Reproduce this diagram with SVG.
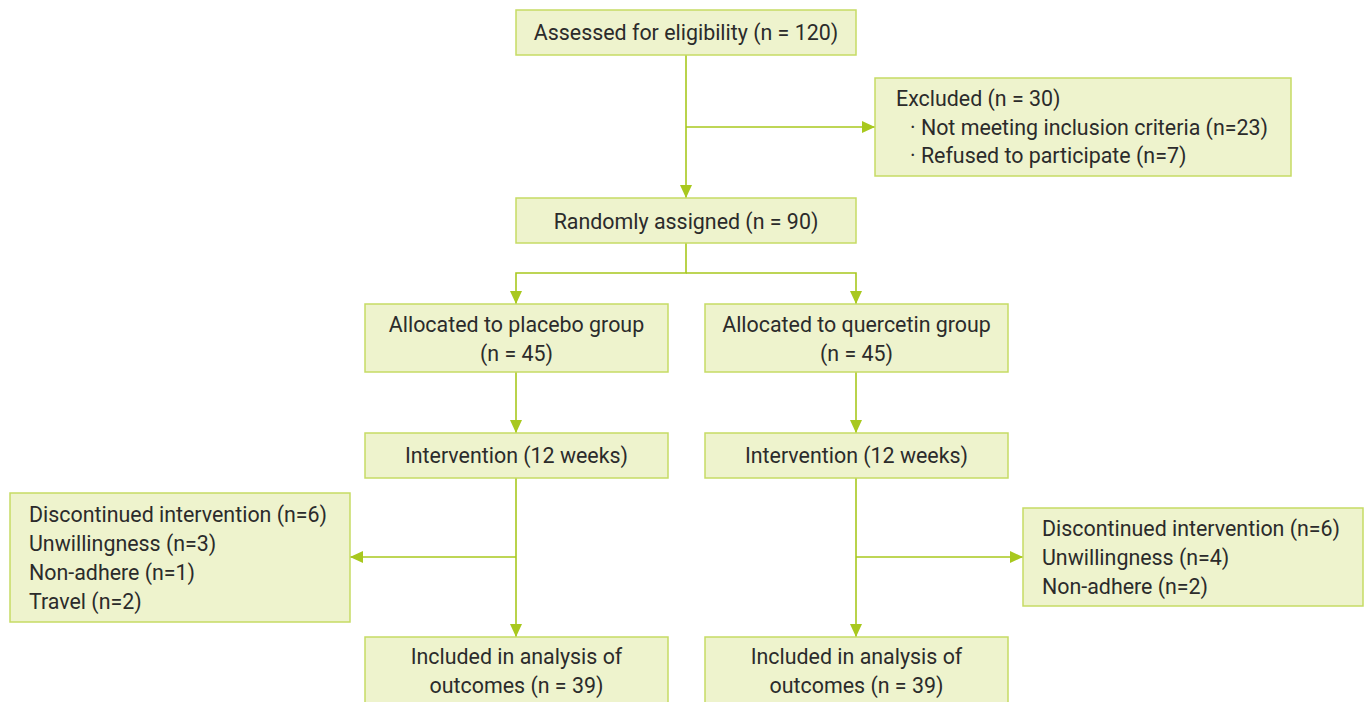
<svg xmlns="http://www.w3.org/2000/svg" width="1368" height="702" viewBox="0 0 1368 702">
<defs>
<style>
.box{fill:#EEF3CD;stroke:#C6DB64;stroke-width:1.5}
.t{font-family:Roboto,"Noto Sans","Liberation Sans",sans-serif;font-size:21.4px;fill:#2B2B2B}
.c{text-anchor:middle}
.ln{fill:none;stroke:#A8C81E;stroke-width:1.6}
</style>
<marker id="ah" markerUnits="userSpaceOnUse" markerWidth="14" markerHeight="14" viewBox="0 0 14 14" refX="13" refY="7" orient="auto">
<path d="M0,1 L13,7 L0,13 Z" fill="#A8C81E"/>
</marker>
</defs>
<rect width="1368" height="702" fill="#FFFFFF"/>
<g id="connectors">
<path class="ln" d="M686,55 V198" marker-end="url(#ah)"/>
<path class="ln" d="M686,127 H875" marker-end="url(#ah)"/>
<path class="ln" d="M686,243 V273 H516 V304" marker-end="url(#ah)"/>
<path class="ln" d="M686,273 H856 V304" marker-end="url(#ah)"/>
<path class="ln" d="M516,372 V433" marker-end="url(#ah)"/>
<path class="ln" d="M856,372 V433" marker-end="url(#ah)"/>
<path class="ln" d="M516,478 V637" marker-end="url(#ah)"/>
<path class="ln" d="M516,557 H350" marker-end="url(#ah)"/>
<path class="ln" d="M856,478 V637" marker-end="url(#ah)"/>
<path class="ln" d="M856,557 H1023" marker-end="url(#ah)"/>
</g>
<g id="assessed">
<rect class="box" x="516" y="10" width="340" height="45"/>
<text class="t c" x="686" y="39.5">Assessed for eligibility (n = 120)</text>
</g>
<g id="excluded">
<rect class="box" x="875" y="78" width="416" height="98"/>
<text class="t" x="896" y="105.5">Excluded (n = 30)</text>
<text class="t" x="910" y="134.5">· Not meeting inclusion criteria (n=23)</text>
<text class="t" x="910" y="162.5">· Refused to participate (n=7)</text>
</g>
<g id="randomized">
<rect class="box" x="516" y="198" width="340" height="45"/>
<text class="t c" x="686" y="228.5">Randomly assigned (n = 90)</text>
</g>
<g id="placebo">
<rect class="box" x="365" y="304" width="303" height="68"/>
<text class="t c" x="516.5" y="331.5">Allocated to placebo group</text>
<text class="t c" x="516.5" y="360.5">(n = 45)</text>
</g>
<g id="quercetin">
<rect class="box" x="705" y="304" width="303" height="68"/>
<text class="t c" x="856.5" y="331.5">Allocated to quercetin group</text>
<text class="t c" x="856.5" y="360.5">(n = 45)</text>
</g>
<g id="intervention-placebo">
<rect class="box" x="365" y="433" width="303" height="45"/>
<text class="t c" x="516.5" y="462.5">Intervention (12 weeks)</text>
</g>
<g id="intervention-quercetin">
<rect class="box" x="705" y="433" width="303" height="45"/>
<text class="t c" x="856.5" y="462.5">Intervention (12 weeks)</text>
</g>
<g id="discontinued-placebo">
<rect class="box" x="10" y="493" width="340" height="129"/>
<text class="t" x="29" y="521.5">Discontinued intervention (n=6)</text>
<text class="t" x="29" y="550.5">Unwillingness (n=3)</text>
<text class="t" x="29" y="579.5">Non-adhere (n=1)</text>
<text class="t" x="29" y="608.5">Travel (n=2)</text>
</g>
<g id="discontinued-quercetin">
<rect class="box" x="1023" y="508" width="340" height="98"/>
<text class="t" x="1042" y="535.5">Discontinued intervention (n=6)</text>
<text class="t" x="1042" y="564.5">Unwillingness (n=4)</text>
<text class="t" x="1042" y="593.5">Non-adhere (n=2)</text>
</g>
<g id="analysis-placebo">
<rect class="box" x="365" y="637" width="303" height="80"/>
<text class="t c" x="516.5" y="663.5">Included in analysis of</text>
<text class="t c" x="516.5" y="692.5">outcomes (n = 39)</text>
</g>
<g id="analysis-quercetin">
<rect class="box" x="705" y="637" width="303" height="80"/>
<text class="t c" x="856.5" y="663.5">Included in analysis of</text>
<text class="t c" x="856.5" y="692.5">outcomes (n = 39)</text>
</g>
</svg>
